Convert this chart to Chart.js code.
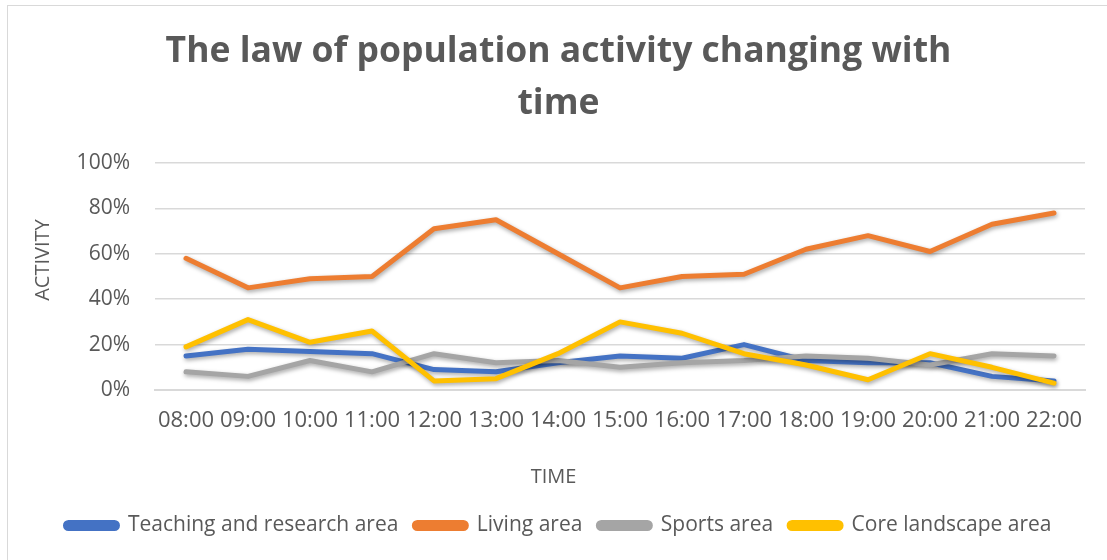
<!DOCTYPE html>
<html>
<head>
<meta charset="utf-8">
<script src="https://cdn.jsdelivr.net/npm/chart.js@4.4.1/dist/chart.umd.min.js"></script>
<style>
  html, body { margin: 0; padding: 0; background: #fff; overflow: hidden; }
  #frame { position: absolute; left: 7px; top: 5px; width: 1200px; height: 700px; border: 1px solid #d9d9d9; }
  #wrap { position: absolute; left: 0; top: 0; width: 1107px; height: 560px; }
</style>
</head>
<body>
<div id="frame"></div>
<div id="wrap"><canvas id="chart" width="1107" height="560"></canvas></div>
<script>
// categories + series (fractions of 1, shown as %)
const times = ['08:00', '09:00', '10:00', '11:00', '12:00', '13:00', '14:00', '15:00',
               '16:00', '17:00', '18:00', '19:00', '20:00', '21:00', '22:00'];
const teaching = [0.15, 0.18, 0.17, 0.16, 0.09, 0.08, 0.12, 0.15, 0.14, 0.20, 0.13, 0.12, 0.12, 0.06, 0.04];
const living   = [0.58, 0.45, 0.49, 0.50, 0.71, 0.75, 0.60, 0.45, 0.50, 0.51, 0.62, 0.68, 0.61, 0.73, 0.78];
const sports   = [0.08, 0.06, 0.13, 0.08, 0.16, 0.12, 0.13, 0.10, 0.12, 0.13, 0.15, 0.14, 0.11, 0.16, 0.15];
const core     = [0.19, 0.31, 0.21, 0.26, 0.04, 0.05, 0.16, 0.30, 0.25, 0.16, 0.11, 0.045, 0.16, 0.10, 0.03];
const yTicks = [0, 0.2, 0.4, 0.6, 0.8, 1];
const xTitle = 'TIME';
const yTitle = 'ACTIVITY';

const textColor = '#595959';
const gridColor = '#d9d9d9';

function series(label, data, color, order) {
    return {
        label: label,
        data: data,
        borderColor: color,
        backgroundColor: color,
        borderWidth: 5,
        borderCapStyle: 'round',
        borderJoinStyle: 'round',
        pointRadius: 0,
        tension: 0,
        order: order
    };
}

// soft drop shadow under the lines, like the office chart
const shadowPlugin = {
    id: 'lineShadow',
    beforeDatasetsDraw(chart) {
        let ctx = chart.ctx;
        ctx.save();
        ctx.shadowColor = 'rgba(0,0,0,0.35)';
        ctx.shadowBlur = 4;
        ctx.shadowOffsetX = 1;
        ctx.shadowOffsetY = 2;
    },
    afterDatasetsDraw(chart) {
        chart.ctx.restore();
    }
};

// axis titles: excel centres the x title on the whole chart, not the plot
const axisTitles = {
    id: 'axisTitles',
    afterDraw(chart) {
        let ctx = chart.ctx;
        ctx.save();
        ctx.fillStyle = textColor;
        ctx.font = '20px "Open Sans", sans-serif';
        ctx.textAlign = 'center';
        ctx.textBaseline = 'middle';
        ctx.fillText(xTitle, chart.width / 2, 477);
        ctx.translate(43, 260);
        ctx.rotate(-Math.PI / 2);
        ctx.fillText(yTitle, 0, 0);
        ctx.restore();
    }
};

Chart.defaults.font.family = '"Open Sans", "Noto Sans", sans-serif';
Chart.defaults.color = textColor;

new Chart(document.getElementById('chart').getContext('2d'), {
    type: 'line',
    data: {
        labels: times,
        datasets: [
            series('Teaching and research area', teaching, '#4472C4', 3),
            series('Living area', living, '#ED7D31', 2),
            series('Sports area', sports, '#A5A5A5', 1),
            series('Core landscape area', core, '#FFC000', 0)
        ]
    },
    plugins: [shadowPlugin, axisTitles],
    options: {
        responsive: false,
        animation: false,
        layout: { padding: { left: 32, right: 22, top: 26, bottom: 14 } },
        plugins: {
            title: {
                display: true,
                text: ['The law of population activity changing with', 'time'],
                color: textColor,
                font: { size: 35.5, weight: 'bold', lineHeight: 52 / 35.5 },
                padding: { top: 0, bottom: 33 }
            },
            legend: {
                position: 'bottom',
                labels: {
                    color: textColor,
                    font: { size: 21 },
                    boxWidth: 52,
                    boxHeight: 6,
                    useBorderRadius: true,
                    borderRadius: 3,
                    padding: 16,
                    sort: (a, b) => a.datasetIndex - b.datasetIndex
                }
            },
            tooltip: { enabled: false }
        },
        scales: {
            x: {
                offset: true,
                grid: { display: false },
                border: { color: gridColor, width: 2 },
                ticks: { color: textColor, font: { size: 22 }, padding: 10, maxRotation: 0, autoSkip: false },
                afterFit: (s) => { s.height = 109; }
            },
            y: {
                min: 0,
                max: 1,
                afterBuildTicks: (axis) => { axis.ticks = yTicks.map(v => ({ value: v })); },
                grid: { color: gridColor, lineWidth: 1.5, drawTicks: false },
                border: { display: false },
                ticks: {
                    color: textColor,
                    font: { size: 21 },
                    padding: 25,
                    callback: (v) => Math.round(v * 100) + '%'
                },
                afterFit: (s) => { s.width = 123; }
            }
        }
    }
});
</script>
</body>
</html>
